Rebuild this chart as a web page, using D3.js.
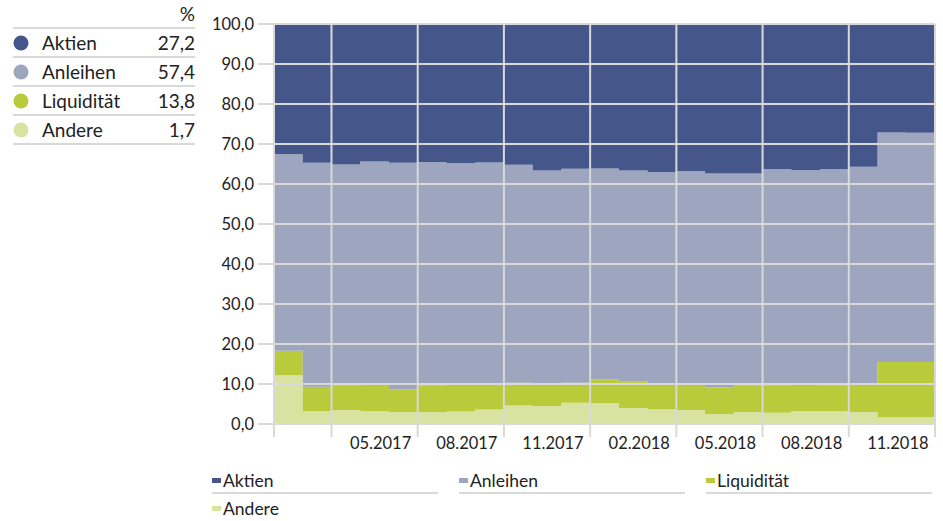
<!DOCTYPE html>
<html>
<head>
<meta charset="utf-8">
<script src="https://cdn.jsdelivr.net/npm/d3@7"></script>
<style>
  body { margin: 0; background: #fff; }
  svg { display: block; font-family: Lato, "Open Sans", sans-serif; }
</style>
</head>
<body>
<svg id="chart" width="943" height="521"></svg>
<script>
const months = ["02.2017","03.2017","04.2017","05.2017","06.2017","07.2017","08.2017","09.2017","10.2017","11.2017","12.2017",
                "01.2018","02.2018","03.2018","04.2018","05.2018","06.2018","07.2018","08.2018","09.2018","10.2018","11.2018","12.2018"];

const andere     = [12.2, 3.2, 3.5, 3.2, 3.0, 3.0, 3.1, 3.6, 4.6, 4.5, 5.3, 5.2, 4.0, 3.7, 3.5, 2.5, 3.0, 2.8, 3.2, 3.2, 3.0, 1.7, 1.7];
const liquiditaet = [6.1, 6.1, 6.1, 7.0, 5.7, 6.6, 6.8, 6.5, 5.7, 5.5, 5.0, 6.0, 6.7, 6.2, 6.4, 6.7, 6.7, 6.8, 6.6, 6.5, 7.0, 13.8, 13.8];
const anleihen   = [49.2, 56.0, 55.3, 55.4, 56.6, 55.9, 55.3, 55.3, 54.5, 53.4, 53.5, 52.7, 52.7, 53.1, 53.3, 53.4, 52.9, 54.1, 53.7, 54.0, 54.3, 57.4, 57.3];
const aktien     = [32.5, 34.7, 35.1, 34.4, 34.7, 34.5, 34.8, 34.6, 35.2, 36.6, 36.2, 36.1, 36.6, 37.0, 36.8, 37.4, 37.4, 36.3, 36.5, 36.3, 35.7, 27.1, 27.2];

const seriesNames = ["Aktien", "Anleihen", "Liquidität", "Andere"];
const currentValues = ["27,2", "57,4", "13,8", "1,7"];
const yTicks = [0, 10, 20, 30, 40, 50, 60, 70, 80, 90, 100];

const colors = { "Aktien": "#45568a", "Anleihen": "#9ea5bf", "Liquidität": "#b9ca3b", "Andere": "#d9e3a1" };
const gridColor = "#d9d9d9";

const svg = d3.select("#chart");
const plotLeft = 274, plotRight = 935, plotTop = 24, plotBottom = 424;

const x = d3.scaleBand().domain(months).range([plotLeft, plotRight]);
const y = d3.scaleLinear().domain([0, 100]).range([plotBottom, plotTop]);

const table = months.map((m, i) => ({
  month: m, "Andere": andere[i], "Liquidität": liquiditaet[i], "Anleihen": anleihen[i], "Aktien": aktien[i]
}));
const stack = d3.stack().keys(["Andere", "Liquidität", "Anleihen", "Aktien"]);
const layers = stack(table);

svg.append("clipPath").attr("id", "plot-clip")
  .append("rect").attr("x", plotLeft).attr("y", plotTop)
  .attr("width", plotRight - plotLeft).attr("height", plotBottom - plotTop);

// step areas: add a closing point at the right edge
const area = d3.area()
  .curve(d3.curveStepAfter)
  .x(d => d.x)
  .y0(d => y(d.y0))
  .y1(d => y(d.y1));

svg.append("g").attr("clip-path", "url(#plot-clip)")
  .selectAll("path").data(layers).enter().append("path")
  .attr("fill", d => colors[d.key])
  .attr("d", layer => {
    const pts = layer.map((d, i) => ({ x: x(months[i]), y0: d[0], y1: d[1] }));
    const last = pts[pts.length - 1];
    pts.push({ x: plotRight, y0: last.y0, y1: last.y1 });
    return area(pts);
  });

// grid
const grid = svg.append("g").attr("stroke", gridColor).attr("stroke-width", 2);
grid.selectAll("line.h").data(yTicks).enter().append("line")
  .attr("x1", plotLeft - 16).attr("x2", plotRight)
  .attr("y1", d => y(d)).attr("y2", d => y(d));

const vLines = [plotLeft].concat(months.filter((m, i) => i % 3 === 2).map(m => x(m)), [plotRight]);
grid.selectAll("line.v").data(vLines).enter().append("line")
  .attr("x1", d => d).attr("x2", d => d)
  .attr("y1", plotTop).attr("y2", plotBottom + 13);

// y labels
svg.append("g").selectAll("text").data(yTicks).enter().append("text")
  .attr("x", 254).attr("y", d => y(d)).attr("dy", "0.35em")
  .attr("text-anchor", "end").attr("font-size", 16.5).attr("fill", "#222")
  .text(d => d3.format(".1f")(d).replace(".", ","));

// x labels
svg.append("g").selectAll("text").data(months.filter((m, i) => i % 3 === 0 && i > 0)).enter().append("text")
  .attr("x", d => x(d) + x.bandwidth() / 2 + 6).attr("y", 449)
  .attr("text-anchor", "middle").attr("font-size", 16.5).attr("fill", "#222")
  .text(d => d);

// left legend table
const tbl = svg.append("g");
tbl.append("text").attr("x", 195).attr("y", 21).attr("text-anchor", "end")
  .attr("font-size", 19).attr("fill", "#222").text("%");
tbl.selectAll("line").data(d3.range(5)).enter().append("line")
  .attr("x1", 13).attr("x2", 195)
  .attr("y1", i => 28 + i * 29).attr("y2", i => 28 + i * 29)
  .attr("stroke", gridColor).attr("stroke-width", 2);
const rows = tbl.selectAll("g.row").data(seriesNames).enter().append("g")
  .attr("transform", (d, i) => `translate(0, ${43 + i * 29})`);
rows.append("circle").attr("cx", 21).attr("cy", 0).attr("r", 7.5).attr("fill", d => colors[d]);
rows.append("text").attr("x", 42).attr("dy", "0.35em").attr("font-size", 19).attr("fill", "#222").text(d => d);
rows.append("text").attr("x", 195).attr("dy", "0.35em").attr("text-anchor", "end")
  .attr("font-size", 19).attr("fill", "#222").text((d, i) => currentValues[i]);

// bottom legend
const legend = svg.append("g");
const items = legend.selectAll("g").data(seriesNames).enter().append("g")
  .attr("transform", (d, i) => `translate(${212 + (i % 3) * 247}, ${481 + Math.floor(i / 3) * 28})`);
items.append("rect").attr("x", 0).attr("y", -3).attr("width", 9).attr("height", 5).attr("fill", d => colors[d]);
items.append("text").attr("x", 11).attr("dy", "0.35em").attr("font-size", 17.5).attr("fill", "#222").text(d => d);
items.filter((d, i) => i < 3).append("line")
  .attr("x1", 0).attr("x2", 226).attr("y1", 12).attr("y2", 12)
  .attr("stroke", gridColor).attr("stroke-width", 2);
</script>
</body>
</html>
